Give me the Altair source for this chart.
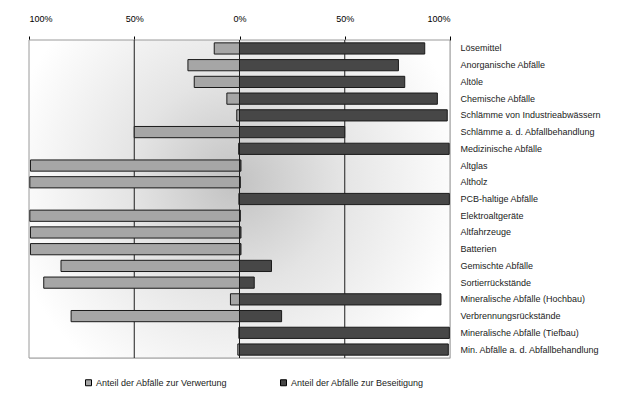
import altair as alt
import pandas as pd

categories = [
    "Lösemittel", "Anorganische Abfälle", "Altöle", "Chemische Abfälle",
    "Schlämme von Industrieabwässern", "Schlämme a. d. Abfallbehandlung",
    "Medizinische Abfälle", "Altglas", "Altholz", "PCB-haltige Abfälle",
    "Elektroaltgeräte", "Altfahrzeuge", "Batterien", "Gemischte Abfälle",
    "Sortierrückstände", "Mineralische Abfälle (Hochbau)",
    "Verbrennungsrückstände", "Mineralische Abfälle (Tiefbau)",
    "Min. Abfälle a. d. Abfallbehandlung",
]
verwertung = [12, 24.5, 21.5, 6, 1.3, 50, 0.4, 99.3, 99.6, 0.3, 99.6, 99.3, 99.3,
              84.8, 93, 4.3, 80, 0.3, 0.8]
beseitigung = [88, 75.5, 78.5, 94, 98.7, 50, 99.6, 0.7, 0.4, 99.7, 0.4, 0.7, 0.7,
               15.2, 7, 95.7, 20, 99.7, 99.2]
series = ["Anteil der Abfälle zur Verwertung", "Anteil der Abfälle zur Beseitigung"]
colors = ["#a6a6a6", "#474747"]
tick_values = [-100, -50, 0, 50, 100]
grid_values = [-50, 0, 50]

rows = []
for c, v, b in zip(categories, verwertung, beseitigung):
    rows.append({"cat": c, "series": series[0], "start": -v, "end": 0})
    rows.append({"cat": c, "series": series[1], "start": 0, "end": b})
df = pd.DataFrame(rows)

W, H = 421, 318
FONT = "Liberation Sans"
xscale = alt.Scale(domain=[-100, 100], nice=False, zero=False)
xaxis = alt.Axis(
    orient="top", values=tick_values,
    labelExpr="abs(datum.value) + '%'", title=None, grid=False,
    tickSize=4, tickColor="#000", domainColor="#000",
    labelPadding=13, labelFontSize=9, labelColor="#000",
    labelFont=FONT,
)

frame = pd.DataFrame({"a": [-100], "b": [100]})

bg = alt.Chart(frame).mark_rect(
    color=alt.RadialGradient(
        gradient="radial",
        stops=[
            alt.GradientStop(color="#c2c2c2", offset=0),
            alt.GradientStop(color="#e4e4e4", offset=0.45),
            alt.GradientStop(color="#ffffff", offset=1),
        ],
        x1=0.49, y1=0.46, r1=0, x2=0.49, y2=0.46, r2=0.55,
    )
).encode(
    x=alt.X("a:Q", scale=xscale, axis=xaxis),
    x2="b:Q",
    y=alt.value(0),
    y2=alt.value(H),
)

border = alt.Chart(frame).mark_rect(
    fillOpacity=0, stroke="#9a9a9a", strokeWidth=1
).encode(
    x=alt.X("a:Q", scale=xscale, axis=xaxis),
    x2="b:Q",
    y=alt.value(0),
    y2=alt.value(H),
)

grid = alt.Chart(pd.DataFrame({"v": grid_values})).mark_rule(
    color="#1e1e1e", strokeWidth=1
).encode(x=alt.X("v:Q", scale=xscale, axis=xaxis))

bars = alt.Chart(df).mark_bar(stroke="#1a1a1a", strokeWidth=1).encode(
    x=alt.X("start:Q", scale=xscale, axis=xaxis),
    x2="end:Q",
    y=alt.Y(
        "cat:N", sort=categories,
        scale=alt.Scale(paddingInner=0.33, paddingOuter=0.17),
        axis=alt.Axis(
            orient="right", title=None, ticks=False, domain=False,
            labelPadding=10, labelFontSize=9, labelColor="#222",
            labelLimit=220, labelFont=FONT,
        ),
    ),
    color=alt.Color(
        "series:N",
        scale=alt.Scale(domain=series, range=colors),
        legend=alt.Legend(
            title=None, orient="none", direction="horizontal",
            legendX=55, legendY=338, symbolType="square", symbolSize=36,
            symbolStrokeColor="#000", symbolStrokeWidth=1, labelOffset=3,
            labelFontSize=9, labelColor="#222", labelFont=FONT,
            columnPadding=50, padding=0, labelLimit=250,
        ),
    ),
)

chart = alt.layer(bg, border, grid, bars).properties(
    width=W, height=H,
    autosize=alt.AutoSizeParams(type="none"),
    padding={"left": 21, "top": 32, "right": 172, "bottom": 30},
).configure_view(stroke=None).configure(font=FONT)

chart.save("out.html", embed_options={"renderer": "svg", "actions": False})
